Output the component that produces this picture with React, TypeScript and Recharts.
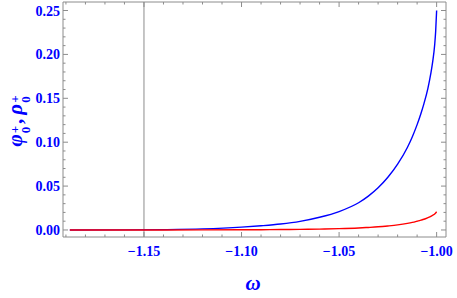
import { LineChart, Line, XAxis, YAxis, ReferenceLine } from "recharts";

const omega = [
  -1.188, -1.16, -1.14, -1.12, -1.1, -1.09, -1.08, -1.07, -1.06, -1.05, -1.04, -1.035,
  -1.03, -1.025, -1.02, -1.015, -1.0125, -1.01, -1.008, -1.0065, -1.0045, -1.003, -1.002,
  -1.001, -1.0005, -1.0,
];
const phi = [
  0, 0.0001, 0.0004, 0.0012, 0.0032, 0.0048, 0.0068, 0.0098, 0.0145, 0.021, 0.031, 0.0385,
  0.048, 0.06, 0.075, 0.094, 0.106, 0.12, 0.133, 0.144, 0.161, 0.178, 0.192, 0.211, 0.226,
  0.25,
];
const rho = [
  0, 0, 0, 0.0001, 0.0002, 0.0003, 0.0005, 0.0007, 0.001, 0.0015, 0.0023, 0.0029, 0.0036,
  0.0046, 0.0058, 0.0075, 0.0086, 0.01, 0.0112, 0.0122, 0.014, 0.0155, 0.0168, 0.0183,
  0.0194, 0.0208,
];

const xTicks = [-1.19, -1.18, -1.17, -1.16, -1.15, -1.14, -1.13, -1.12, -1.11, -1.1, -1.09, -1.08, -1.07, -1.06, -1.05, -1.04, -1.03, -1.02, -1.01, -1.0];
const xMajor = [-1.15, -1.1, -1.05, -1.0];
const yTicks = [0, 0.01, 0.02, 0.03, 0.04, 0.05, 0.06, 0.07, 0.08, 0.09, 0.1, 0.11, 0.12, 0.13, 0.14, 0.15, 0.16, 0.17, 0.18, 0.19, 0.2, 0.21, 0.22, 0.23, 0.24, 0.25];
const yMajor = [0, 0.05, 0.1, 0.15, 0.2, 0.25];

const data = omega.map((w, i) => ({ w, phi: phi[i], rho: rho[i] }));

const FRAME = "#8c8c8c";
const BLUE = "#0000ff";
const FONT = "'Liberation Serif', 'DejaVu Serif', serif";

const isMajor = (list: number[], v: number) => list.some((m) => Math.abs(m - v) < 1e-6);
const fmtX = (v: number) => "\u2212" + Math.abs(v).toFixed(2);

const BottomTick = (props: any) => {
  const { x, y, payload } = props;
  const major = isMajor(xMajor, payload.value);
  return (
    <g>
      <line x1={x} x2={x} y1={y} y2={y - (major ? 5 : 2.5)} stroke={FRAME} />
      {major && (
        <text x={x} y={y + 19} textAnchor="middle" fill={BLUE} fontFamily={FONT} fontWeight="bold" fontSize={14}>
          {fmtX(payload.value)}
        </text>
      )}
    </g>
  );
};

const TopTick = (props: any) => {
  const { x, y, payload } = props;
  const major = isMajor(xMajor, payload.value);
  return <line x1={x} x2={x} y1={y} y2={y + (major ? 5 : 2.5)} stroke={FRAME} />;
};

const LeftTick = (props: any) => {
  const { x, y, payload } = props;
  const major = isMajor(yMajor, payload.value);
  return (
    <g>
      <line x1={x} x2={x + (major ? 5 : 2.5)} y1={y} y2={y} stroke={FRAME} />
      {major && (
        <text x={x - 3} y={y + 5} textAnchor="end" fill={BLUE} fontFamily={FONT} fontWeight="bold" fontSize={14}>
          {payload.value.toFixed(2)}
        </text>
      )}
    </g>
  );
};

const RightTick = (props: any) => {
  const { x, y, payload } = props;
  const major = isMajor(yMajor, payload.value);
  return <line x1={x} x2={x - (major ? 5 : 2.5)} y1={y} y2={y} stroke={FRAME} />;
};

const Stack = ({ base }: { base: string }) => (
  <span style={{ display: "inline-flex", alignItems: "flex-end" }}>
    <span style={{ fontStyle: "italic" }}>{base}</span>
    <span
      style={{
        display: "inline-flex",
        flexDirection: "column",
        fontSize: 13,
        lineHeight: "11px",
        marginLeft: 1,
        transform: "translateY(5px)",
      }}
    >
      <span>+</span>
      <span>0</span>
    </span>
  </span>
);

export default function App() {
  return (
    <div style={{ position: "absolute", left: 0, top: 0, width: 457, height: 298, background: "#fff" }}>
      <LineChart width={457} height={298} data={data} margin={{ top: 1, right: 10, bottom: 31, left: 23 }}>
        <XAxis
          dataKey="w"
          type="number"
          domain={[-1.1915, -0.9952]}
          allowDataOverflow
          ticks={xTicks}
          interval={0}
          height={30}
          tickSize={0}
          tickMargin={0}
          tickLine={false}
          axisLine={{ stroke: FRAME }}
          tick={<BottomTick />}
        />
        <XAxis
          xAxisId="top"
          orientation="top"
          dataKey="w"
          type="number"
          domain={[-1.1915, -0.9952]}
          allowDataOverflow
          ticks={xTicks}
          interval={0}
          height={1}
          tickSize={0}
          tickMargin={0}
          tickLine={false}
          axisLine={{ stroke: FRAME }}
          tick={<TopTick />}
        />
        <YAxis
          type="number"
          domain={[-0.008, 0.2597]}
          allowDataOverflow
          ticks={yTicks}
          interval={0}
          width={40}
          tickSize={0}
          tickMargin={0}
          tickLine={false}
          axisLine={{ stroke: FRAME }}
          tick={<LeftTick />}
        />
        <YAxis
          yAxisId="right"
          orientation="right"
          type="number"
          domain={[-0.008, 0.2597]}
          allowDataOverflow
          ticks={yTicks}
          interval={0}
          width={1}
          tickSize={0}
          tickMargin={0}
          tickLine={false}
          axisLine={{ stroke: FRAME }}
          tick={<RightTick />}
        />
        <ReferenceLine x={-1.15} stroke={FRAME} strokeWidth={1} />
        <Line type="monotone" dataKey="phi" stroke={BLUE} strokeWidth={1.4} dot={false} isAnimationActive={false} />
        <Line type="monotone" dataKey="rho" stroke="#ff0000" strokeWidth={1.4} dot={false} isAnimationActive={false} />
      </LineChart>
      <div
        style={{
          position: "absolute",
          left: 253,
          top: 283,
          transform: "translate(-50%, -50%)",
          color: BLUE,
          fontFamily: FONT,
          fontWeight: "bold",
          fontStyle: "italic",
          fontSize: 21,
        }}
      >
        ω
      </div>
      <div
        style={{
          position: "absolute",
          left: 15,
          top: 121,
          transform: "translate(-50%, -50%) rotate(-90deg)",
          color: BLUE,
          fontFamily: FONT,
          fontWeight: "bold",
          fontSize: 21,
          whiteSpace: "nowrap",
          lineHeight: "22px",
        }}
      >
        <Stack base="φ" />
        <span style={{ margin: "0 4px 0 2px" }}>,</span>
        <Stack base="ρ" />
      </div>
    </div>
  );
}
